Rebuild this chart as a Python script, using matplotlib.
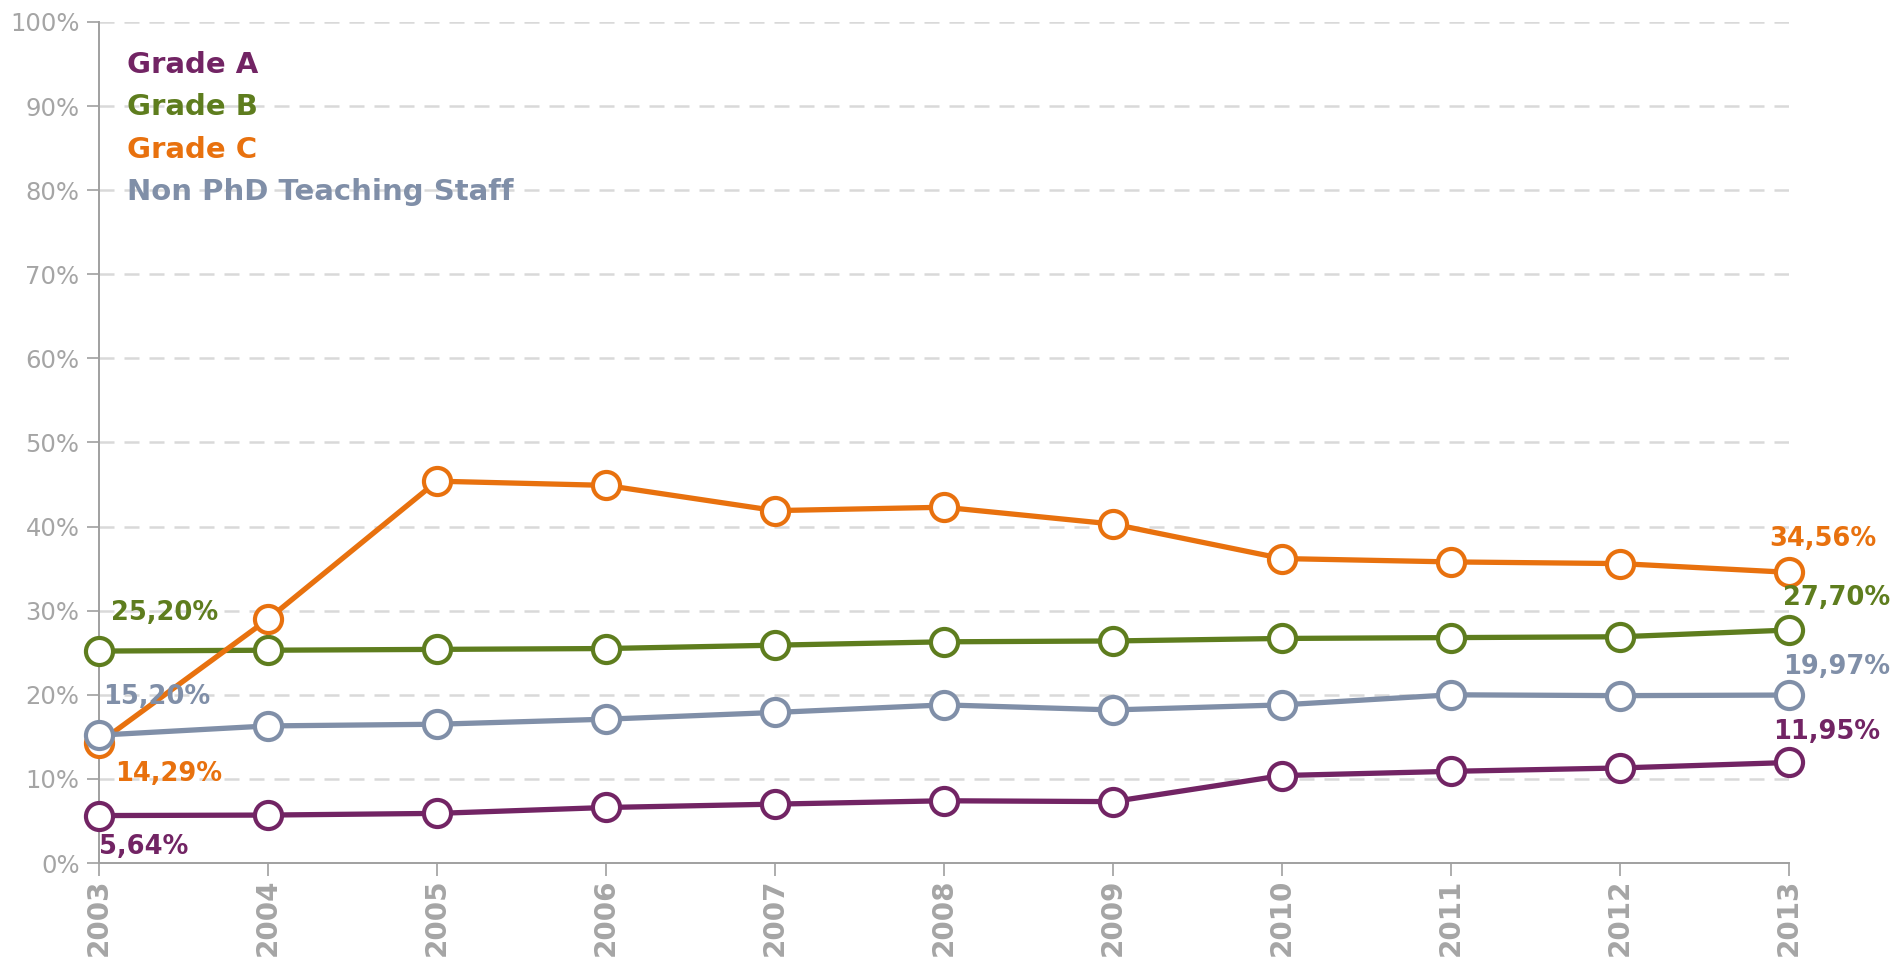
import matplotlib
matplotlib.use("Agg")
import matplotlib.pyplot as plt

plt.rcParams["font.family"] = ["DejaVu Sans"]

years = [2003, 2004, 2005, 2006, 2007, 2008, 2009, 2010, 2011, 2012, 2013]

grade_a = [5.64, 5.7, 5.9, 6.6, 7.0, 7.4, 7.3, 10.4, 10.9, 11.3, 11.95]
grade_b = [25.20, 25.3, 25.4, 25.5, 25.9, 26.3, 26.4, 26.7, 26.8, 26.9, 27.70]
grade_c = [14.29, 29.0, 45.4, 44.9, 41.9, 42.3, 40.3, 36.2, 35.8, 35.6, 34.56]
non_phd = [15.20, 16.3, 16.5, 17.1, 17.9, 18.8, 18.2, 18.8, 20.0, 19.9, 19.97]

names = ["Grade A", "Grade B", "Grade C", "Non PhD Teaching Staff"]
series = [grade_a, grade_b, grade_c, non_phd]
colors = ["#722464", "#5E7D1E", "#E8710E", "#808FA8"]

# pixel offsets for the first / last value labels
first_off = [(0, -31, "left"), (12, 38, "left"), (16, -31, "left"), (4, 38, "left")]
last_off = [(38, 30, "center"), (48, 32, "center"), (34, 33, "center"), (48, 28, "center")]

fig = plt.figure(figsize=(18.94, 9.59), dpi=100)
ax = fig.add_axes([0.0523, 0.1001, 0.8923, 0.8770])

for vals, col in zip(series, colors):
    ax.plot(years, vals, color=col, lw=3.8, marker="o", ms=19.5,
            mfc="white", mec=col, mew=3.0, clip_on=False, zorder=3)

def fmt(v):
    return "{:.2f}".format(v).replace(".", ",") + "%"

for vals, col, fo, lo in zip(series, colors, first_off, last_off):
    ax.annotate(fmt(vals[0]), (years[0], vals[0]), xytext=(fo[0], fo[1]),
                textcoords="offset pixels", ha=fo[2], va="center",
                color=col, fontsize=18.5, fontweight="bold", zorder=5,
                annotation_clip=False)
    ax.annotate(fmt(vals[-1]), (years[-1], vals[-1]), xytext=(lo[0], lo[1]),
                textcoords="offset pixels", ha=lo[2], va="center",
                color=col, fontsize=18.5, fontweight="bold", zorder=5,
                annotation_clip=False)

# legend as coloured text
for i, (name, col) in enumerate(zip(names, colors)):
    ax.text(0.0166, 0.949 - i * 0.0505, name, transform=ax.transAxes,
            color=col, fontsize=21, fontweight="bold", va="center", ha="left")

ax.set_xlim(2003, 2013)
ax.set_ylim(0, 100)
ax.set_xticks(years)
ax.set_xticklabels([str(y) for y in years], rotation=90, fontsize=20,
                   fontweight="bold", color="#A5A5A5")
ax.set_yticks(range(0, 101, 10))
ax.set_yticklabels([f"{v}%" for v in range(0, 101, 10)], fontsize=17.5,
                   color="#A5A5A5")
ax.tick_params(axis="both", length=9, width=1.2, color="#A0A0A0")
ax.tick_params(axis="x", pad=2)
ax.tick_params(axis="y", pad=5)

for v in range(10, 101, 10):
    ax.axhline(v, color="#D9D9D9", lw=1.8, dashes=(6, 4), zorder=1)

for s in ["top", "right"]:
    ax.spines[s].set_visible(False)
for s in ["left", "bottom"]:
    ax.spines[s].set_color("#A0A0A0")
    ax.spines[s].set_linewidth(1.4)

fig.savefig("out.png", dpi=100)
